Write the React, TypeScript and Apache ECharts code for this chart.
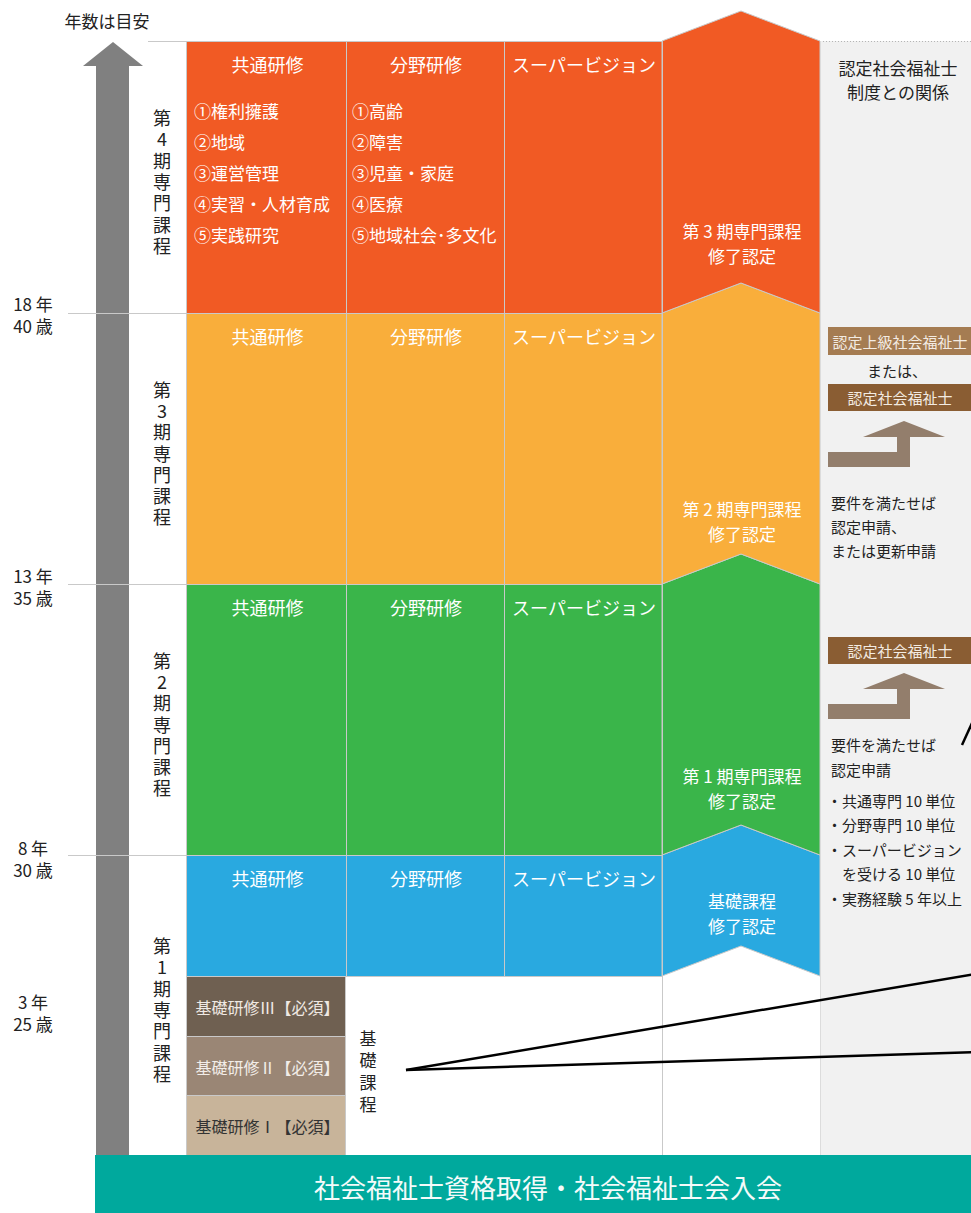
import React, { useEffect, useRef } from "react";
import * as echarts from "echarts";

// ---------- data ----------
const stageNames = ["第1期専門課程", "第2期専門課程", "第3期専門課程", "第4期専門課程"];
const stageColors = ["#29a9e0", "#3ab54a", "#f9ae3b", "#f15a24"];
const columnHeaders = ["共通研修", "分野研修", "スーパービジョン"];
const commonTopics = ["①権利擁護", "②地域", "③運営管理", "④実習・人材育成", "⑤実践研究"];
const fieldTopics = ["①高齢", "②障害", "③児童・家庭", "④医療", "⑤地域社会･多文化"];
const certTitles = ["基礎課程", "第 1 期専門課程", "第 2 期専門課程", "第 3 期専門課程"];
const certSuffix = "修了認定";
const yearLabels = ["3 年", "8 年", "13 年", "18 年"];
const ageLabels = ["25 歳", "30 歳", "35 歳", "40 歳"];
const basicCourses = ["基礎研修Ⅰ【必須】", "基礎研修Ⅱ【必須】", "基礎研修Ⅲ【必須】"];
const basicColors = ["#c8b49a", "#9a8675", "#6f6051"];
const basicTextColors = ["#333333", "#f2ede8", "#efe9e3"];
const basicGroupLabel = "基礎課程";
const axisTitle = "年数は目安";
const footerText = "社会福祉士資格取得・社会福祉士会入会";
const relationTitle = ["認定社会福祉士", "制度との関係"];
const upperBadges = ["認定上級社会福祉士", "認定社会福祉士"];
const upperOr = "または、";
const upperNote = ["要件を満たせば", "認定申請、", "または更新申請"];
const lowerBadge = "認定社会福祉士";
const lowerNote = ["要件を満たせば", "認定申請"];
const lowerReqs = ["・共通専門 10 単位", "・分野専門 10 単位", "・スーパービジョン", "　を受ける 10 単位", "・実務経験 5 年以上"];

// ---------- layout ----------
const FONT = '"Noto Sans CJK JP", "Noto Sans", sans-serif';
const colX = [187, 346, 504, 662, 820, 971];
const rowY = [976, 855, 584, 313, 41]; // stage i spans rowY[i+1]..rowY[i]
const basicY = [1155, 1095, 1036, 976];
const certCenterY = [913, 788, 521, 243];
const PEAK = 30;
const LINE = "#c9c9c9";

function txt(text: string, x: number, y: number, o: any = {}) {
  return {
    type: "text",
    silent: true,
    x,
    y,
    style: {
      text,
      fill: o.fill || "#222",
      fontSize: o.fontSize || 16,
      fontFamily: FONT,
      align: o.align || "center",
      verticalAlign: "middle",
      fontWeight: "normal",
    },
  };
}
// stack of single-line texts
function lines(arr: string[], x: number, cy: number, step: number, o: any = {}) {
  const n = arr.length;
  return arr.map((t, k) => txt(t, x, cy + (k - (n - 1) / 2) * step, o));
}
function line(x1: number, y1: number, x2: number, y2: number, stroke = LINE, lineWidth = 1, dash?: number[]) {
  return {
    type: "line",
    silent: true,
    shape: { x1, y1, x2, y2 },
    style: { stroke, lineWidth, lineDash: dash },
  };
}
function rect(x: number, y: number, w: number, h: number, fill: string) {
  return { type: "rect", silent: true, shape: { x, y, width: w, height: h }, style: { fill } };
}
function poly(points: number[][], fill: string, stroke?: string) {
  return { type: "polygon", silent: true, shape: { points }, style: { fill, stroke, lineWidth: 1 } };
}

function buildGraphics() {
  const g: any[] = [];
  // right relation column
  g.push(rect(colX[4], rowY[4], colX[5] - colX[4], basicY[0] - rowY[4], "#f1f1f1"));

  // stage rows (cols 1-3)
  stageColors.forEach((c, i) => {
    g.push(rect(colX[0], rowY[i + 1], colX[3] - colX[0], rowY[i] - rowY[i + 1], c));
  });
  // chevrons
  stageColors.forEach((c, i) => {
    const t = rowY[i + 1];
    const b = rowY[i];
    const xl = colX[3];
    const xr = colX[4];
    const xm = (xl + xr) / 2;
    g.push(
      poly(
        [
          [xl, t],
          [xm, t - PEAK],
          [xr, t],
          [xr, b],
          [xm, b - PEAK],
          [xl, b],
        ],
        c,
        LINE
      )
    );
  });
  // basic course boxes
  basicCourses.forEach((_, i) => {
    g.push(rect(colX[0], basicY[i + 1], colX[1] - colX[0], basicY[i] - basicY[i + 1], basicColors[i]));
  });

  // gray arrow
  g.push(rect(96, 66, 33, 1213 - 66, "#808080"));
  g.push(poly([[83, 66], [113, 42], [143, 66]], "#808080"));

  // grid lines
  g.push(line(148, rowY[4] + 0.5, colX[3], rowY[4] + 0.5));
  g.push(line(colX[4], rowY[4] + 0.5, colX[5], rowY[4] + 0.5, "#b5b5b5", 1, [1, 2]));
  for (let i = 1; i < 4; i++) g.push(line(68, rowY[i] + 0.5, colX[3], rowY[i] + 0.5));
  g.push(line(colX[0], rowY[0] + 0.5, colX[3], rowY[0] + 0.5));
  [colX[1], colX[2]].forEach((x) => g.push(line(x + 0.5, rowY[4], x + 0.5, rowY[0])));
  g.push(line(colX[0] - 0.5, rowY[4], colX[0] - 0.5, basicY[0]));
  g.push(line(colX[3] + 0.5, rowY[4], colX[3] + 0.5, basicY[0]));
  g.push(line(colX[4] + 0.5, rowY[4], colX[4] + 0.5, basicY[0], "#dcdcdc"));
  g.push(line(colX[1] - 0.5, basicY[3], colX[1] - 0.5, basicY[0]));
  for (let i = 1; i < 3; i++) g.push(line(colX[0], basicY[i] + 0.5, colX[1], basicY[i] + 0.5));

  // footer
  g.push(rect(95, basicY[0], 971 - 95, 1213 - basicY[0], "#00a99d"));
  g.push(txt(footerText, 548, 1186, { fill: "#f4fbfa", fontSize: 26 }));

  // axis title and year/age labels
  g.push(txt(axisTitle, 107, 20, { fontSize: 17 }));
  const labelCenters = [1012, rowY[1] + 3, rowY[2] + 2, rowY[3] + 1];
  yearLabels.forEach((y, i) => {
    g.push(...lines([y, ageLabels[i]], 33, labelCenters[i], 22, { fontSize: 17 }));
  });

  // vertical stage labels
  stageNames.forEach((s, i) => {
    const top = rowY[i + 1];
    const bot = i === 0 ? basicY[0] : rowY[i];
    g.push(...lines(s.split(""), 162, (top + bot) / 2 + 4, 21.3, { fontSize: 18 }));
  });

  // headers & certificates
  stageColors.forEach((_, i) => {
    const top = rowY[i + 1];
    columnHeaders.forEach((h, j) => {
      g.push(txt(h, (colX[j] + colX[j + 1]) / 2 + 1, top + 23, { fill: "#ffffff", fontSize: 18 }));
    });
    const cx = (colX[3] + colX[4]) / 2 + 1;
    g.push(...lines([certTitles[i], certSuffix], cx, certCenterY[i], 25, { fill: "#ffffff", fontSize: 17 }));
  });
  commonTopics.forEach((t, k) => {
    g.push(txt(t, colX[0] + 7, 110 + k * 31, { fill: "#ffffff", fontSize: 17, align: "left" }));
  });
  fieldTopics.forEach((t, k) => {
    g.push(txt(t, colX[1] + 6, 110 + k * 31, { fill: "#ffffff", fontSize: 17, align: "left" }));
  });

  // basic courses text
  basicCourses.forEach((b, i) => {
    g.push(txt(b, (colX[0] + colX[1]) / 2 + 1, (basicY[i] + basicY[i + 1]) / 2 + 1, { fill: basicTextColors[i], fontSize: 16 }));
  });
  g.push(...lines(basicGroupLabel.split(""), 368, 1070, 22, { fontSize: 17 }));

  // relation column
  g.push(...lines(relationTitle, 898, 79, 24, { fontSize: 17 }));
  g.push(rect(828, 327, 143, 28, "#a57c52"));
  g.push(txt(upperBadges[0], 900, 341.5, { fill: "#f3ebe2", fontSize: 15 }));
  g.push(txt(upperOr, 897, 370, { fontSize: 15 }));
  g.push(rect(828, 384, 143, 27, "#8a5d33"));
  g.push(txt(upperBadges[1], 900, 397.5, { fill: "#f3ebe2", fontSize: 15 }));
  const stepArrow = (ty: number) =>
    poly(
      [
        [904, ty],
        [945, ty + 16],
        [910, ty + 16],
        [910, ty + 46],
        [828, ty + 46],
        [828, ty + 31],
        [897, ty + 31],
        [897, ty + 16],
        [863, ty + 16],
      ],
      "#937e6c"
    );
  g.push(stepArrow(421));
  upperNote.forEach((t, k) => g.push(txt(t, 831, 502 + k * 24, { fontSize: 15, align: "left" })));
  g.push(rect(828, 637, 143, 27, "#8a5d33"));
  g.push(txt(lowerBadge, 900, 650.5, { fill: "#f3ebe2", fontSize: 15 }));
  g.push(stepArrow(673));
  lowerNote.forEach((t, k) => g.push(txt(t, 831, 744 + k * 25, { fontSize: 15, align: "left" })));
  lowerReqs.forEach((t, k) => g.push(txt(t, 827, 800 + k * 24.5, { fontSize: 15, align: "left" })));

  // callout lines
  g.push(line(406, 1070, 975, 974, "#000", 2.5));
  g.push(line(406, 1070, 975, 1052, "#000", 2.5));
  g.push(line(962, 745, 973, 721, "#000", 2.5));
  return g;
}

export default function App() {
  const ref = useRef<HTMLDivElement>(null);
  useEffect(() => {
    if (!ref.current) return;
    const chart = echarts.init(ref.current, undefined, { renderer: "svg" });
    chart.setOption({
      animation: false,
      backgroundColor: "#ffffff",
      graphic: { elements: buildGraphics() },
    });
    return () => chart.dispose();
  }, []);
  return (
    <div
      ref={ref}
      style={{ position: "absolute", left: 0, top: 0, width: 971, height: 1213, background: "#fff" }}
    />
  );
}
